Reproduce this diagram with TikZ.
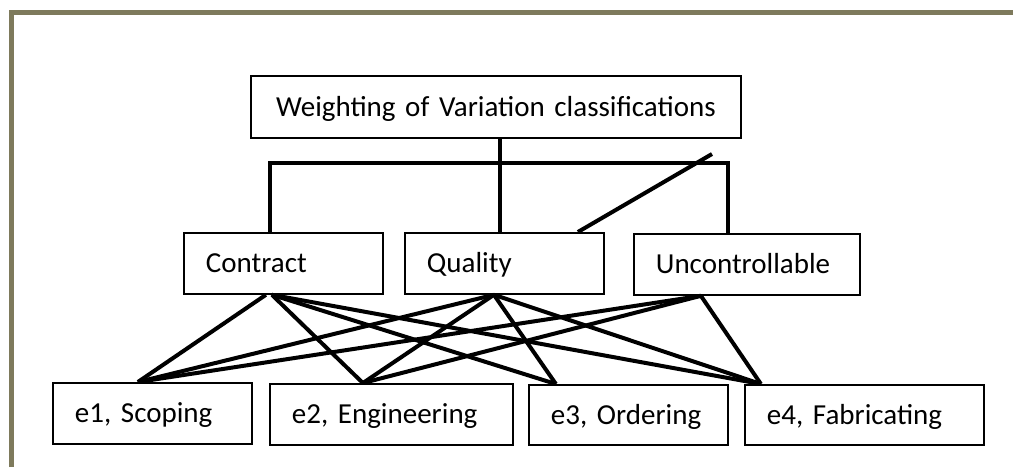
\documentclass[tikz,border=0pt]{standalone}
\usepackage{fontspec}
\setmainfont{Carlito}
\definecolor{frame}{RGB}{126,122,92}
\begin{document}
\begin{tikzpicture}[x=1pt,y=-1pt,
  box/.style={draw, line width=1.8pt, inner sep=0pt, anchor=north west,
    font=\fontsize{29}{32}\selectfont, text height=18.3pt, text depth=0pt, align=left},
  link/.style={line width=4pt, line join=miter},
 ]
\useasboundingbox (0,0) rectangle (1013,467);
\draw[line width=5pt, color=frame] (11.5,467) -- (11.5,12.5) -- (1013,12.5);

\node[box, minimum width=490pt, minimum height=62pt, text width=446pt, align=center] (top) at (250,75) {Weighting of Variation classifications};

\node[box, minimum width=199pt, minimum height=61pt, text width=155pt] (contract) at (183,232) {Contract};
\node[box, minimum width=199pt, minimum height=61pt, text width=155pt] (quality) at (404,232) {Quality};
\node[box, minimum width=226pt, minimum height=61pt, text width=182pt] (uncontrollable) at (633,233) {Uncontrollable};

\node[box, minimum width=199pt, minimum height=61pt, text width=155pt] (e1) at (52,382) {e1, Scoping};
\node[box, minimum width=243pt, minimum height=61pt, text width=199pt] (e2) at (269,383) {e2, Engineering};
\node[box, minimum width=199pt, minimum height=60pt, text width=155pt] (e3) at (528,384) {e3, Ordering};
\node[box, minimum width=239pt, minimum height=60pt, text width=195pt] (e4) at (744,384) {e4, Fabricating};

% tree from the top box
\draw[link] ([xshift=4pt]top.south) -- ([xshift=-4.5pt]quality.north);
\draw[link] ([xshift=-13.5pt]contract.north) -- ++(0,-69) -| ([xshift=-19pt]uncontrollable.north);
\coordinate (diagEnd) at (712,154);
\draw[link] ([xshift=73.5pt]quality.north) -- (diagEnd);

% anchor points
\coordinate (cA) at ([xshift=-17.5pt]contract.south);
\coordinate (cB) at ([xshift=-11.5pt]contract.south);
\coordinate (qA) at ([xshift=-10.5pt]quality.south);
\coordinate (uA) at ([xshift=-46pt]uncontrollable.south);
\coordinate (p1) at ([xshift=-14.5pt]e1.north);
\coordinate (p2) at ([xshift=-28.5pt]e2.north);
\coordinate (p3) at ([xshift=-72.5pt]e3.north);
\coordinate (p4) at ([xshift=-103.5pt]e4.north);

\draw[link] (cA) -- (p1);
\foreach \t in {p2,p3,p4} \draw[link] (cB) -- (\t);
\foreach \t in {p1,p2,p3,p4} \draw[link] (qA) -- (\t);
\foreach \t in {p1,p2,p4} \draw[link] (uA) -- (\t);
\end{tikzpicture}
\end{document}
